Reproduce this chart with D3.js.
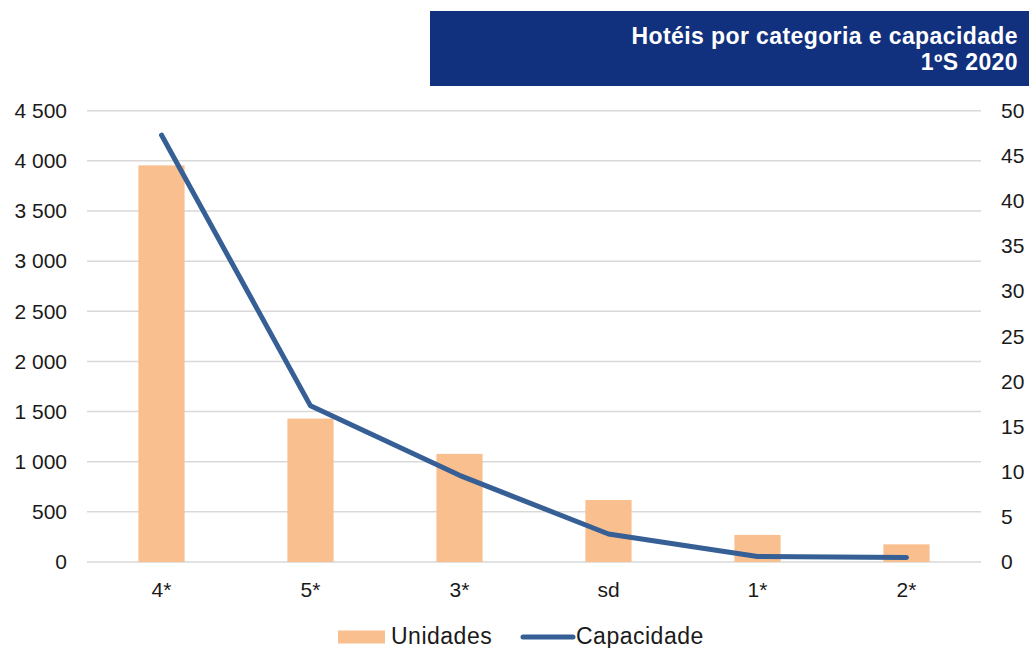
<!DOCTYPE html>
<html>
<head>
<meta charset="utf-8">
<script src="https://cdn.jsdelivr.net/npm/d3@7"></script>
<style>
  body { margin: 0; background: #fff; }
  text { font-family: "Liberation Sans", Arial, sans-serif; }
</style>
</head>
<body>
<div id="chart"></div>
<script>
// data
const categories = ["4*", "5*", "3*", "sd", "1*", "2*"];
const unidades = [3955, 1430, 1078, 618, 270, 176];
const capacidade = [47.3, 17.3, 9.6, 3.1, 0.6, 0.5];
const leftTicks = [0, 500, 1000, 1500, 2000, 2500, 3000, 3500, 4000, 4500];
const rightTicks = [0, 5, 10, 15, 20, 25, 30, 35, 40, 45, 50];
const titleLines = ["Hotéis por categoria e capacidade", "1ºS 2020"];

const width = 1029, height = 648;
const plot = {left: 87, right: 981, top: 110.7, bottom: 562};

const svg = d3.select("#chart")
    .append("svg")
    .attr("width", width)
    .attr("height", height);

// title box
svg.append("rect")
    .attr("x", 430).attr("y", 11)
    .attr("width", width - 430).attr("height", 75)
    .attr("fill", "#11307e");

svg.selectAll(".title")
    .data(titleLines)
    .enter()
    .append("text")
    .attr("class", "title")
    .attr("x", 1018)
    .attr("y", (d, i) => 43.5 + i * 26.5)
    .attr("text-anchor", "end")
    .attr("fill", "#fff")
    .style("font-size", "23px")
    .style("letter-spacing", "0.4px")
    .style("font-weight", "bold")
    .text(d => d);

const x = d3.scaleBand()
    .domain(categories)
    .range([plot.left, plot.right])
    .paddingInner(0.69)
    .paddingOuter(0.345);

const xPoint = d3.scalePoint()
    .domain(categories)
    .range([plot.left, plot.right])
    .padding(0.5);

const yLeft = d3.scaleLinear().domain([0, 4500]).range([plot.bottom, plot.top]);
const yRight = d3.scaleLinear().domain([0, 50]).range([plot.bottom, plot.top]);

const fmt = v => d3.format(",")(v).replace(/,/g, " ");

// gridlines
svg.append("g")
    .selectAll("line")
    .data(leftTicks)
    .enter()
    .append("line")
    .attr("x1", plot.left).attr("x2", plot.right)
    .attr("y1", d => yLeft(d)).attr("y2", d => yLeft(d))
    .attr("stroke", "#d9d9d9")
    .attr("stroke-width", 1.5);

// left axis
const leftAxis = svg.append("g")
    .attr("transform", `translate(${plot.left},0)`)
    .call(d3.axisLeft(yLeft).tickValues(leftTicks).tickFormat(fmt).tickSize(0).tickPadding(20));
leftAxis.select(".domain").remove();
leftAxis.selectAll("text").style("font-size", "21px").attr("fill", "#1a1a1a");

// right axis
const rightAxis = svg.append("g")
    .attr("transform", `translate(${plot.right},0)`)
    .call(d3.axisRight(yRight).tickValues(rightTicks).tickSize(0).tickPadding(20));
rightAxis.select(".domain").remove();
rightAxis.selectAll("text").style("font-size", "21px").attr("fill", "#1a1a1a");

// bottom axis
const bottomAxis = svg.append("g")
    .attr("transform", `translate(0,${plot.bottom})`)
    .call(d3.axisBottom(x).tickSize(0).tickPadding(20));
bottomAxis.select(".domain").remove();
bottomAxis.selectAll("text").style("font-size", "21px").attr("fill", "#1a1a1a");

// bars
svg.append("g")
    .selectAll("rect")
    .data(unidades)
    .enter()
    .append("rect")
    .attr("x", (d, i) => x(categories[i]))
    .attr("y", d => yLeft(d))
    .attr("width", x.bandwidth())
    .attr("height", d => plot.bottom - yLeft(d))
    .attr("fill", "#f9bf8f");

// line
const line = d3.line()
    .x((d, i) => xPoint(categories[i]))
    .y(d => yRight(d));

svg.append("path")
    .datum(capacidade)
    .attr("d", line)
    .attr("fill", "none")
    .attr("stroke", "#355f95")
    .attr("stroke-width", 5)
    .attr("stroke-linecap", "round")
    .attr("stroke-linejoin", "round");

// legend
const legend = svg.append("g");
legend.append("rect")
    .attr("x", 338).attr("y", 630.5)
    .attr("width", 47).attr("height", 13)
    .attr("fill", "#f9bf8f");
legend.append("text")
    .attr("x", 391).attr("y", 644)
    .style("font-size", "23px").style("letter-spacing", "0.5px")
    .attr("fill", "#1a1a1a")
    .text("Unidades");
legend.append("line")
    .attr("x1", 523).attr("x2", 573)
    .attr("y1", 637).attr("y2", 637)
    .attr("stroke", "#355f95")
    .attr("stroke-width", 5)
    .attr("stroke-linecap", "round");
legend.append("text")
    .attr("x", 576).attr("y", 644)
    .style("font-size", "23px").style("letter-spacing", "0.5px")
    .attr("fill", "#1a1a1a")
    .text("Capacidade");
</script>
</body>
</html>
